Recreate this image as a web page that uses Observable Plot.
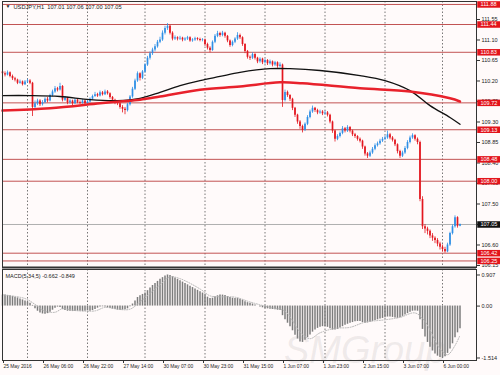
<!DOCTYPE html>
<html><head><meta charset="utf-8">
<script src="https://cdn.jsdelivr.net/npm/d3@7"></script>
<script src="https://cdn.jsdelivr.net/npm/@observablehq/plot@0.6"></script>
<style>
html,body{margin:0;padding:0;background:#fffafa;}
#chart{width:500px;height:375px;overflow:hidden;}
#chart svg{display:block;}
</style></head><body><div id="chart"></div>
<script>
// ---- price data (H1 bars, index 0 = 25 May 2016 14:00) ----
const open = [110.40,110.36,110.33,110.38,110.30,110.25,110.22,110.15,110.18,110.12,110.18,110.20,110.15,109.62,109.70,109.76,109.68,109.72,109.80,109.76,
109.88,109.96,110.03,110.00,110.08,109.78,109.82,109.72,109.76,109.70,109.78,109.73,109.71,109.76,109.70,109.74,109.80,109.86,109.90,109.87,
109.94,109.90,109.96,109.92,109.84,109.78,109.72,109.70,109.62,109.58,109.55,109.68,109.85,110.02,110.20,110.36,110.26,110.40,110.55,110.70,
110.80,110.88,110.95,111.05,111.10,111.25,111.35,111.40,111.25,111.12,111.15,111.12,111.14,111.10,111.12,111.15,111.08,111.10,111.13,111.11,
111.09,111.10,111.00,110.92,110.87,111.05,111.18,111.24,111.20,111.25,111.18,111.08,110.98,111.05,111.12,111.20,111.15,111.00,110.85,110.72,
110.70,110.78,110.70,110.62,110.68,110.60,110.65,110.58,110.62,110.55,110.60,110.52,110.55,109.77,109.95,109.88,109.80,109.60,109.45,109.30,
109.20,109.12,109.25,109.40,109.52,109.60,109.55,109.50,109.52,109.48,109.50,109.45,109.30,109.10,108.92,108.98,109.05,109.15,109.10,109.18,
109.10,109.02,108.98,108.92,108.88,108.75,108.60,108.55,108.62,108.70,108.78,108.82,108.88,108.92,108.95,109.02,108.95,108.90,108.80,108.65,
108.55,108.62,108.72,108.85,108.95,109.00,108.92,108.85,107.60,107.00,106.95,106.90,106.80,106.75,106.70,106.62,106.55,106.50,106.45,106.60,
106.85,107.00,107.20,107.01];
const high = [110.44,110.40,110.42,110.40,110.33,110.28,110.24,110.22,110.20,110.21,110.24,110.23,110.17,109.76,109.80,109.79,109.77,109.83,109.84,109.91,
110.00,110.08,110.06,110.15,110.10,109.86,109.84,109.79,109.78,109.81,109.80,109.76,109.79,109.78,109.77,109.83,109.89,109.95,109.93,109.98,
109.97,110.00,109.99,109.94,109.86,109.80,109.76,109.72,109.66,109.62,109.71,109.88,110.06,110.24,110.40,110.38,110.43,110.58,110.74,110.84,
110.92,111.00,111.09,111.16,111.30,111.40,111.46,111.42,111.28,111.19,111.17,111.18,111.16,111.15,111.18,111.17,111.13,111.16,111.15,111.14,
111.13,111.12,111.03,110.95,111.08,111.22,111.29,111.27,111.29,111.27,111.20,111.10,111.08,111.15,111.26,111.23,111.17,111.02,110.87,110.75,
110.82,110.80,110.72,110.71,110.70,110.68,110.67,110.66,110.64,110.63,110.62,110.60,110.57,110.00,109.98,109.90,109.82,109.62,109.47,109.33,
109.23,109.28,109.44,109.56,109.65,109.62,109.58,109.56,109.55,109.54,109.53,109.47,109.32,109.12,109.02,109.08,109.20,109.18,109.22,109.20,
109.12,109.05,109.00,108.95,108.90,108.77,108.63,108.66,108.74,108.82,108.86,108.92,108.96,108.99,109.10,109.05,108.98,108.92,108.82,108.68,
108.66,108.76,108.89,108.99,109.04,109.02,108.95,108.88,107.66,107.05,106.99,106.93,106.85,106.78,106.74,106.66,106.60,106.55,106.64,106.88,
107.04,107.24,107.22,107.06];
const low = [110.32,110.29,110.31,110.27,110.21,110.18,110.12,110.13,110.09,110.10,110.15,110.12,109.42,109.55,109.66,109.64,109.65,109.70,109.72,109.74,
109.85,109.93,109.96,109.98,109.74,109.75,109.68,109.69,109.66,109.68,109.70,109.68,109.69,109.67,109.67,109.72,109.78,109.84,109.84,109.85,
109.87,109.88,109.89,109.80,109.74,109.68,109.66,109.58,109.50,109.46,109.52,109.65,109.82,109.99,110.17,110.20,110.23,110.37,110.52,110.66,
110.76,110.84,110.92,111.02,111.07,111.21,111.31,111.21,111.08,111.09,111.08,111.09,111.06,111.07,111.09,111.05,111.05,111.07,111.08,111.06,
111.06,110.96,110.88,110.82,110.85,111.02,111.15,111.16,111.17,111.14,111.04,110.94,110.95,111.02,111.09,111.11,110.96,110.80,110.68,110.65,
110.67,110.66,110.58,110.59,110.56,110.57,110.54,110.55,110.51,110.52,110.48,110.49,109.62,109.74,109.84,109.75,109.55,109.40,109.25,109.14,
109.06,109.09,109.22,109.37,109.49,109.51,109.46,109.47,109.44,109.45,109.41,109.26,109.05,108.86,108.89,108.95,109.02,109.06,109.07,109.06,
108.98,108.94,108.88,108.84,108.70,108.55,108.50,108.52,108.59,108.67,108.75,108.79,108.85,108.89,108.92,108.91,108.86,108.76,108.60,108.50,
108.52,108.59,108.69,108.82,108.92,108.88,108.80,107.55,106.94,106.85,106.82,106.74,106.68,106.63,106.56,106.49,106.44,106.42,106.43,106.57,
106.82,106.97,106.97,107.00];
const close = [110.36,110.33,110.38,110.30,110.25,110.22,110.15,110.18,110.12,110.18,110.20,110.15,109.62,109.70,109.76,109.68,109.72,109.80,109.76,109.88,
109.96,110.03,110.00,110.08,109.78,109.82,109.72,109.76,109.70,109.78,109.73,109.71,109.76,109.70,109.74,109.80,109.86,109.90,109.87,109.94,
109.90,109.96,109.92,109.84,109.78,109.72,109.70,109.62,109.58,109.55,109.68,109.85,110.02,110.20,110.36,110.26,110.40,110.55,110.70,110.80,
110.88,110.95,111.05,111.10,111.25,111.35,111.40,111.25,111.12,111.15,111.12,111.14,111.10,111.12,111.15,111.08,111.10,111.13,111.11,111.09,
111.10,111.00,110.92,110.87,111.05,111.18,111.24,111.20,111.25,111.18,111.08,110.98,111.05,111.12,111.20,111.15,111.00,110.85,110.72,110.70,
110.78,110.70,110.62,110.68,110.60,110.65,110.58,110.62,110.55,110.60,110.52,110.55,109.77,109.95,109.88,109.80,109.60,109.45,109.30,109.20,
109.12,109.25,109.40,109.52,109.60,109.55,109.50,109.52,109.48,109.50,109.45,109.30,109.10,108.92,108.98,109.05,109.15,109.10,109.18,109.10,
109.02,108.98,108.92,108.88,108.75,108.60,108.55,108.62,108.70,108.78,108.82,108.88,108.92,108.95,109.02,108.95,108.90,108.80,108.65,108.55,
108.62,108.72,108.85,108.95,109.00,108.92,108.85,107.60,107.00,106.95,106.90,106.80,106.75,106.70,106.62,106.55,106.50,106.45,106.60,106.85,
107.00,107.20,107.01,107.05];

// moving averages, read at sample bars
const blackIdx = [0,11,23,35,46,55,63,71,79,87,95,107,115,127,143,153,163,171,179,183];
const blackVal = [109.88,109.88,109.86,109.79,109.77,109.82,109.95,110.10,110.21,110.30,110.39,110.47,110.47,110.43,110.32,110.21,109.99,109.66,109.40,109.25];
const redIdx = [0,19,39,47,55,63,79,95,111,120,143,163,179,183];
const redVal = [109.55,109.60,109.71,109.75,109.79,109.86,110.01,110.08,110.17,110.15,110.04,109.97,109.82,109.75];

// MACD(5,34,5) histogram, one per bar
const macd = [0.32,0.32,0.31,0.30,0.28,0.26,0.24,0.21,0.18,0.15,0.12,0.08,0.02,-0.08,-0.15,-0.20,-0.23,-0.24,-0.22,-0.18,
-0.12,-0.06,-0.03,-0.04,-0.10,-0.13,-0.15,-0.15,-0.16,-0.16,-0.15,-0.15,-0.16,-0.15,-0.14,-0.15,-0.13,-0.10,-0.06,-0.03,
-0.02,-0.03,-0.05,-0.07,-0.09,-0.10,-0.12,-0.13,-0.12,-0.11,-0.08,-0.02,0.06,0.15,0.25,0.30,0.34,0.38,0.45,0.53,
0.60,0.66,0.72,0.78,0.83,0.88,0.907,0.89,0.86,0.82,0.78,0.74,0.70,0.66,0.62,0.58,0.54,0.50,0.46,0.42,
0.38,0.32,0.26,0.22,0.23,0.27,0.30,0.32,0.32,0.31,0.28,0.25,0.23,0.22,0.22,0.20,0.17,0.13,0.10,0.08,
0.06,0.03,0.00,-0.03,-0.05,-0.07,-0.08,-0.09,-0.10,-0.11,-0.12,-0.13,-0.28,-0.40,-0.50,-0.60,-0.72,-0.85,-0.96,-1.05,
-1.06,-1.00,-0.92,-0.84,-0.76,-0.70,-0.65,-0.62,-0.60,-0.60,-0.62,-0.66,-0.70,-0.70,-0.68,-0.64,-0.60,-0.56,-0.53,-0.50,
-0.48,-0.46,-0.45,-0.45,-0.48,-0.50,-0.49,-0.47,-0.45,-0.42,-0.40,-0.38,-0.36,-0.34,-0.32,-0.32,-0.33,-0.35,-0.36,-0.34,
-0.30,-0.26,-0.22,-0.18,-0.15,-0.14,-0.15,-0.40,-0.68,-0.90,-1.06,-1.20,-1.31,-1.40,-1.46,-1.50,-1.514,-1.48,-1.38,-1.25,
-1.10,-0.92,-0.78,-0.662];
const sigIdx = [0,9,13,17,21,24,29,37,41,47,51,55,63,67,71,79,83,87,93,99,107,113,119,123,127,133,139,145,153,159,165,169,175,178,181,183];
const sigVal = [0.33,0.22,0.05,-0.15,-0.18,-0.08,-0.13,-0.14,-0.04,-0.10,-0.09,0.12,0.62,0.85,0.80,0.50,0.30,0.27,0.26,0.12,-0.04,-0.15,-0.75,-0.95,-0.78,-0.65,-0.62,-0.47,-0.40,-0.33,-0.20,-0.45,-1.25,-1.42,-1.15,-0.849];

// axes / levels
const priceTicks = [111.55,111.10,110.65,110.20,109.75,109.30,108.85,108.40,107.95,107.50,107.05,106.60,106.15];
const levels = [111.88,111.44,110.83,109.72,109.13,108.48,108.00,106.42,106.25];
const lastPrice = 107.05;
const macdTicks = [0.907,0,-1.514];
const timeIdx = [0,16,32,48,64,80,96,112,128,144,160,176];
const timeLabels = ["25 May 2016","26 May 06:00","26 May 22:00","27 May 14:00","30 May 07:00","30 May 23:00","31 May 15:00","1 Jun 07:00","1 Jun 23:00","2 Jun 15:00","3 Jun 07:00","6 Jun 00:00"];
const dayStarts = [10,34,57,81,105,129,153,176];
const titleText = "USDJPY,H1  107.01 107.06 107.00 107.05";
const macdText = "MACD(5,34,5) -0.662 -0.849";

// ---- build ----
const bull = "#2f8fe6", bear = "#e3161e", lvl = "#c25353", box = "#e3141b";
const candles = close.map((c,i)=>({i,o:open[i],h:Math.max(high[i],open[i],c),l:Math.min(low[i],open[i],c),c}));
const col = d => d.c >= d.o ? bull : bear;
const blackMA = blackIdx.map((i,k)=>({i,v:blackVal[k]}));
const redMA = redIdx.map((i,k)=>({i,v:redVal[k]}));
const macdData = macd.map((v,i)=>({i,v}));
const sig = sigIdx.map((i,k)=>({i,v:sigVal[k]}));
const font = "Liberation Sans, Arial, sans-serif";
const xDom = [0,189.6];

const pricePlot = Plot.plot({
  width:500, height:268, marginLeft:2, marginRight:24, marginTop:1, marginBottom:1,
  style:{fontFamily:font, fontSize:"5.5px", background:"#fffafa", overflow:"visible"},
  x:{domain:xDom, axis:null},
  y:{domain:[106.106,111.945], axis:null},
  color:{type:"identity"},
  marks:[
    Plot.ruleX(dayStarts, {x:d=>d, stroke:"#555", strokeDasharray:"1.5,2", strokeWidth:0.8}),
    Plot.ruleY(levels, {y:d=>d, stroke:lvl, strokeWidth:1}),
    Plot.ruleY([lastPrice], {y:d=>d, stroke:"#b0b0b0", strokeWidth:1}),
    Plot.ruleX(candles, {x:"i", y1:"l", y2:"h", stroke:col, strokeWidth:0.8}),
    Plot.ruleX(candles, {x:"i", y1:"o", y2:"c", stroke:col, strokeWidth:1.7}),
    Plot.line(blackMA, {x:"i", y:"v", stroke:"#111", strokeWidth:1.3, curve:"catmull-rom"}),
    Plot.line(redMA, {x:"i", y:"v", stroke:"#e8212b", strokeWidth:2.5, curve:"catmull-rom"}),
    Plot.axisY(priceTicks, {anchor:"right", label:null, tickSize:3, tickPadding:2, tickFormat:d=>d.toFixed(2), fontSize:5.5, fill:"#222", stroke:"#333"}),
    Plot.ruleY(levels, {y:d=>d, x1:190.1, x2:199.4, stroke:box, strokeWidth:6.5}),
    Plot.ruleY([lastPrice], {y:d=>d, x1:190.1, x2:199.4, stroke:"#111", strokeWidth:6.5}),
    Plot.text(levels, {y:d=>d, x:191.2, text:d=>d.toFixed(2), textAnchor:"start", fill:"white", fontSize:5.5}),
    Plot.text([lastPrice], {y:d=>d, x:191.2, text:d=>d.toFixed(2), textAnchor:"start", fill:"white", fontSize:5.5}),
    Plot.text(["▼"], {frameAnchor:"top-left", dx:3, dy:3, fontSize:5, fill:"#222"}),
    Plot.text([titleText], {frameAnchor:"top-left", dx:11, dy:3, fontSize:5.7, fill:"#222"}),
    Plot.frame({stroke:"#333"}),
    Plot.ruleY([106.106], {stroke:"#333", strokeWidth:2})
  ]
});

const macdPlot = Plot.plot({
  width:500, height:107, marginLeft:2, marginRight:24, marginTop:1, marginBottom:15,
  style:{fontFamily:font, fontSize:"5.5px", background:"#fffafa", overflow:"visible"},
  x:{domain:xDom, axis:null},
  y:{domain:[-1.587,1.067], axis:null},
  marks:[
    Plot.ruleX(dayStarts, {x:d=>d, stroke:"#555", strokeDasharray:"1.5,2", strokeWidth:0.8}),
    Plot.ruleX(macdData, {x:"i", y1:0, y2:"v", stroke:"#7c7c7c", strokeWidth:1.5}),
    Plot.line(sig, {x:"i", y:"v", stroke:"#b5b5b5", strokeWidth:1, strokeDasharray:"1,1.5", curve:"catmull-rom"}),
    Plot.text(["SMGroup"], {frameAnchor:"bottom-right", dx:-30, dy:2, lineAnchor:"bottom", textAnchor:"end", fontSize:38, fontStyle:"italic", fill:"#999", fillOpacity:0.17}),
    Plot.axisY(macdTicks, {anchor:"right", label:null, tickSize:3, tickPadding:2, tickFormat:d=>d===0?"0.00":d.toFixed(3), fontSize:5.5, fill:"#222", stroke:"#333"}),
    Plot.axisX(timeIdx, {anchor:"bottom", label:null, tickSize:3, tickPadding:1, tickFormat:d=>timeLabels[timeIdx.indexOf(d)], textAnchor:"start", dx:1, fontSize:4.9, fill:"#222", stroke:"#333"}),
    Plot.text([macdText], {frameAnchor:"top-left", dx:3, dy:5, fontSize:5.5, fill:"#222"}),
    Plot.frame({stroke:"#333"})
  ]
});

const root = document.getElementById("chart");
root.appendChild(pricePlot);
root.appendChild(macdPlot);
</script></body></html>
